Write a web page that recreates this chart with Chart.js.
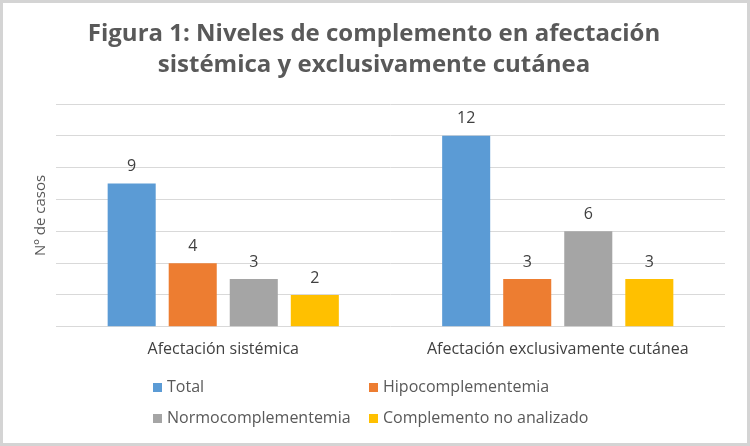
<!DOCTYPE html>
<html>
<head>
<meta charset="utf-8">
<script src="https://cdn.jsdelivr.net/npm/chart.js@4"></script>
<style>
html,body{margin:0;padding:0;background:#fff;}
#wrap{width:750px;height:446px;position:relative;}
</style>
</head>
<body>
<div id="wrap"><canvas id="c" width="750" height="446"></canvas></div>
<script>
const categories = ["Afectación sistémica", "Afectación exclusivamente cutánea"];
const seriesNames = ["Total", "Hipocomplementemia", "Normocomplementemia", "Complemento no analizado"];
const totalValues = [9, 12];
const hipoValues = [4, 3];
const normoValues = [3, 6];
const noAnalizadoValues = [2, 3];
const seriesColors = ["#5b9bd5", "#ed7d31", "#a5a5a5", "#ffc000"];
const titleLines = ["Figura 1: Niveles de complemento en afectación", "sistémica y exclusivamente cutánea"];
const yTitle = "Nº de casos";

const FONT = "'Open Sans', 'Noto Sans', sans-serif";

const seriesValues = [totalValues, hipoValues, normoValues, noAnalizadoValues];

const framePlugin = {
  id: 'frame',
  beforeDraw(chart) {
    const ctx = chart.ctx;
    ctx.save();
    ctx.fillStyle = '#ffffff';
    ctx.fillRect(0, 0, chart.width, chart.height);
    ctx.strokeStyle = '#d4d4d4';
    ctx.lineWidth = 3;
    ctx.strokeRect(1.5, 1.5, chart.width - 3, chart.height - 3);
    // title
    ctx.fillStyle = '#595959';
    ctx.font = "bold 24px " + FONT;
    ctx.textAlign = 'center';
    ctx.textBaseline = 'middle';
    titleLines.forEach((line, i) => {
      ctx.fillText(line, 374, 34 + i * 31);
    });
    ctx.restore();
  }
};

const labelsPlugin = {
  id: 'valueLabels',
  afterDatasetsDraw(chart) {
    const ctx = chart.ctx;
    ctx.save();
    ctx.font = "16px " + FONT;
    ctx.fillStyle = '#404040';
    ctx.textAlign = 'center';
    ctx.textBaseline = 'middle';
    chart.data.datasets.forEach((ds, i) => {
      const meta = chart.getDatasetMeta(i);
      meta.data.forEach((bar, j) => {
        ctx.fillText(String(ds.data[j]), bar.x, bar.y - 17);
      });
    });
    // y axis title
    const area = chart.chartArea;
    ctx.save();
    ctx.translate(41, (area.top + area.bottom) / 2);
    ctx.rotate(-Math.PI / 2);
    ctx.fillStyle = '#595959';
    ctx.font = "15px " + FONT;
    ctx.fillText(yTitle, 0, 0);
    ctx.restore();
    ctx.restore();
  }
};

const legendPlugin = {
  id: 'customLegend',
  afterDraw(chart) {
    const ctx = chart.ctx;
    ctx.save();
    ctx.font = "16px " + FONT;
    ctx.textBaseline = 'middle';
    ctx.textAlign = 'left';
    const cols = [153, 369];
    const rows = [387, 418];
    chart.data.datasets.forEach((ds, i) => {
      const x = cols[i % 2];
      const y = rows[Math.floor(i / 2)];
      ctx.fillStyle = ds.backgroundColor;
      ctx.fillRect(x, y - 4, 9, 9);
      ctx.fillStyle = '#595959';
      ctx.fillText(ds.label, x + 14, y);
    });
    ctx.restore();
  }
};

new Chart(document.getElementById('c'), {
  type: 'bar',
  data: {
    labels: categories,
    datasets: seriesNames.map((name, i) => ({
      label: name,
      data: seriesValues[i],
      backgroundColor: seriesColors[i],
      categoryPercentage: 0.73,
      barPercentage: 0.787
    }))
  },
  options: {
    responsive: false,
    animation: false,
    devicePixelRatio: 1,
    layout: { padding: { left: 56, right: 25, top: 104, bottom: 74 } },
    plugins: {
      legend: { display: false },
      tooltip: { enabled: false },
      title: { display: false }
    },
    scales: {
      x: {
        grid: { display: false, drawTicks: false },
        border: { display: false },
        ticks: { color: '#404040', font: { family: FONT, size: 16 }, padding: 13 }
      },
      y: {
        min: 0, max: 14,
        grid: { color: '#d9d9d9', lineWidth: 1, drawTicks: false },
        border: { display: false },
        ticks: { display: false, stepSize: 2 }
      }
    }
  },
  plugins: [framePlugin, labelsPlugin, legendPlugin]
});
</script>
</body>
</html>
